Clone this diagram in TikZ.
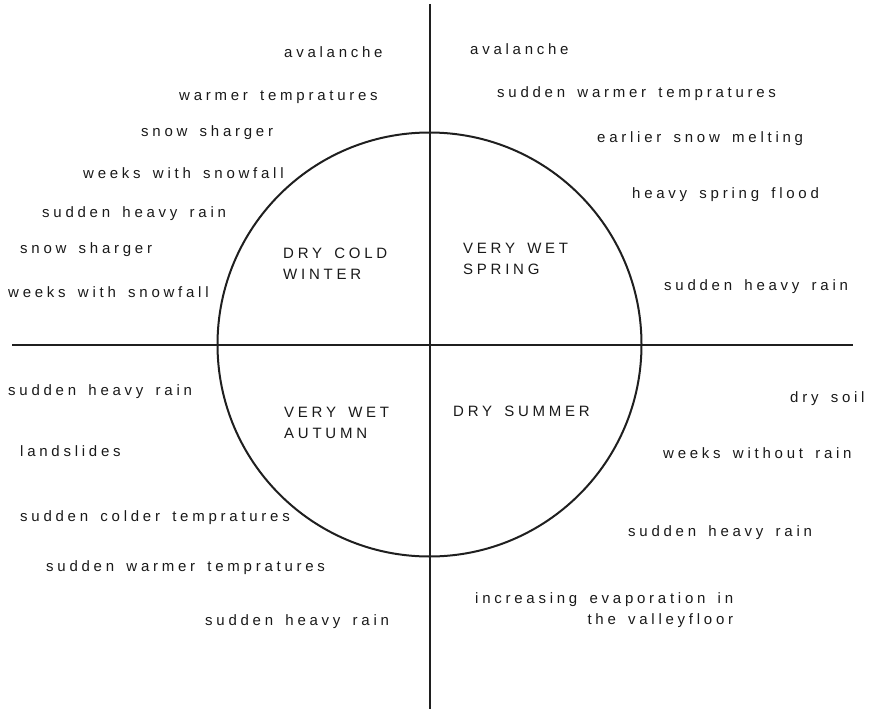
\documentclass[tikz,border=0pt]{standalone}
\usepackage{fontspec}
\setmainfont{Liberation Sans}[LetterSpace=25,WordSpace=1.55]
\begin{document}
\begin{tikzpicture}[x=1pt,y=-1pt,
  axis/.style={line width=2pt,draw=black!88},
  ring/.style={line width=2pt,draw=black!88},
  cause/.style={anchor=base west,inner sep=0pt,text=black!90,
    font=\fontsize{15}{21}\selectfont},
  season/.style={cause,align=left},
]
\useasboundingbox (0,0) rectangle (872,709);
% centre of the year circle and the ends of the two axes
\coordinate (c) at (429.5,344.5);
\coordinate (top) at (429.5,4);
\coordinate (bottom) at (429.5,709);
\coordinate (left) at (12,344.5);
\coordinate (right) at (853,344.5);
\draw[axis] (top) -- (bottom);
\draw[axis] (left) -- (right);
\draw[ring] (c) circle[radius=212];

% seasons (multi-line nodes sit on the baseline of their last line)
\node[season] (winter) at (283,279) {DRY COLD\\WINTER};
\node[season] (spring) at (463,274) {VERY WET\\SPRING};
\node[season] (autumn) at (284,438) {VERY WET\\AUTUMN};
\node[season] (summer) at (453,416) {DRY SUMMER};

% winter
\node[cause] (w1) at (284,58) {avalanche};
\node[cause] (w2) at (179,100) {warmer tempratures};
\node[cause] (w3) at (141,136) {snow sharger};
\node[cause] (w4) at (83,178) {weeks with snowfall};
\node[cause] (w5) at (42,217) {sudden heavy rain};
\node[cause] (w6) at (20,253) {snow sharger};
\node[cause] (w7) at (8,297) {weeks with snowfall};

% spring
\node[cause] (s1) at (470,55) {avalanche};
\node[cause] (s2) at (497,97) {sudden warmer tempratures};
\node[cause] (s3) at (597,142) {earlier snow melting};
\node[cause] (s4) at (632,198) {heavy spring flood};
\node[cause] (s5) at (664,290) {sudden heavy rain};

% autumn
\node[cause] (a1) at (8,395) {sudden heavy rain};
\node[cause] (a2) at (20,456) {landslides};
\node[cause] (a3) at (20,521) {sudden colder tempratures};
\node[cause] (a4) at (46,571) {sudden warmer tempratures};
\node[cause] (a5) at (205,625) {sudden heavy rain};

% summer
\node[cause] (u1) at (790,402) {dry soil};
\node[cause] (u2) at (663,458) {weeks without rain};
\node[cause] (u3) at (628,536) {sudden heavy rain};
\node[cause,align=right] (u4) at (475,624) {increasing evaporation in\\the valleyfloor};
\end{tikzpicture}
\end{document}
